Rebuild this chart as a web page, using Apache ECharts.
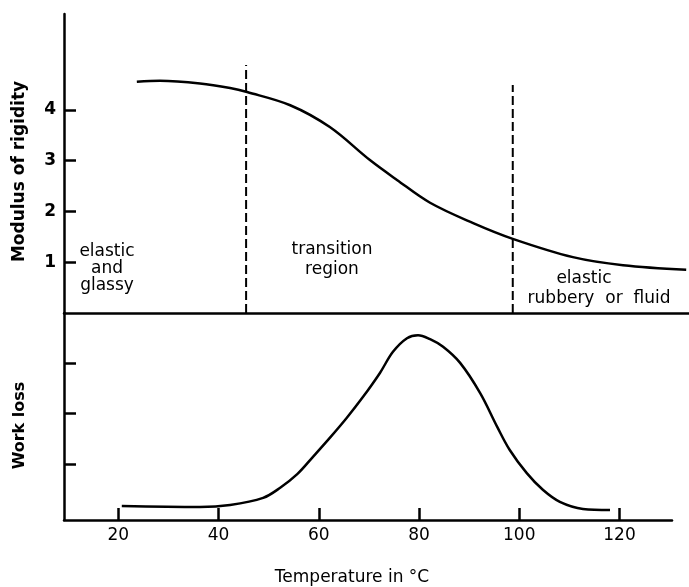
<!DOCTYPE html>
<html>
<head>
<meta charset="utf-8">
<style>
  html, body { margin: 0; padding: 0; background: #fff; }
  #chart { width: 689px; height: 587px; }
</style>
<script src="https://cdn.jsdelivr.net/npm/echarts@6/dist/echarts.min.js"></script>
</head>
<body>
<div id="chart"></div>
<script>
// Modulus of rigidity curve (upper panel)
const tempTop = [23.7, 28.3, 36.3, 42.3, 45.7, 54.3, 62.2, 70.2, 75.6, 82.2, 90.8, 98.7, 110.7, 120.7, 133.3]
const modulus = [4.55, 4.57, 4.52, 4.43, 4.35, 4.09, 3.66, 3.01, 2.62, 2.17, 1.77, 1.46, 1.10, 0.94, 0.85]

// Work loss curve (lower panel)
const tempBottom = [20.7, 36.3, 42.3, 48.9, 52.3, 55.7, 58.8, 62.2, 65.6, 68.8, 72.2, 74.8, 77.6, 79.8, 82.2, 84.8, 88.2, 92.2, 95.6, 98.1, 101.5, 104.7, 108.1, 112.7, 118.1]
const workLoss = [0.17, 0.15, 0.19, 0.33, 0.53, 0.80, 1.14, 1.52, 1.92, 2.33, 2.81, 3.23, 3.50, 3.56, 3.48, 3.33, 3.01, 2.41, 1.74, 1.28, 0.82, 0.49, 0.25, 0.11, 0.09]

// region boundaries (dashed lines)
const boundaryTemps = [45.5, 98.7]
const boundaryTops = [4.88, 4.49]

// ticks
const xTicks = [20, 40, 60, 80, 100, 120]
const modulusTicks = [1, 2, 3, 4]
const workTicks = [1, 2, 3]

const FONT = 'DejaVu Sans'
const axisLine = { show: true, onZero: false, lineStyle: { color: '#000', width: 2.5 } }
const tickStyle = { show: true, inside: true, length: 12, lineStyle: { color: '#000', width: 2.5 } }

const chart = echarts.init(document.getElementById('chart'))

const dashedSeries = boundaryTemps.map((t, i) => ({
  type: 'line',
  xAxisIndex: 0,
  yAxisIndex: 0,
  showSymbol: false,
  silent: true,
  lineStyle: { color: '#000', width: 2, type: [9, 4] },
  data: [[t, 0], [t, boundaryTops[i]]]
}))

chart.setOption({
  animation: false,
  backgroundColor: '#fff',
  grid: [
    { left: 64, top: 14, width: 625, height: 299 },
    { left: 64, top: 313, width: 608, height: 207 }
  ],
  xAxis: [
    {
      gridIndex: 0, type: 'value', min: 9.17, max: 133.86,
      axisLine: axisLine, axisTick: { show: false }, axisLabel: { show: false }, splitLine: { show: false }
    },
    {
      gridIndex: 1, type: 'value', min: 9.17, max: 130.47,
      axisLine: axisLine,
      axisTick: Object.assign({ customValues: xTicks }, tickStyle),
      axisLabel: { customValues: xTicks, color: '#000', fontFamily: FONT, fontSize: 17, margin: 7 },
      splitLine: { show: false },
      name: 'Temperature in °C',
      nameLocation: 'middle',
      nameGap: 49,
      nameTextStyle: { color: '#000', fontFamily: FONT, fontSize: 17, padding: [0, 32, 0, 0] }
    }
  ],
  yAxis: [
    {
      gridIndex: 0, type: 'value', min: 0, max: 5.886,
      axisLine: axisLine,
      axisTick: Object.assign({ customValues: modulusTicks }, tickStyle),
      axisLabel: { customValues: modulusTicks, color: '#000', fontFamily: FONT, fontWeight: 'bold', fontSize: 17, margin: 8 },
      splitLine: { show: false },
      name: 'Modulus of rigidity',
      nameLocation: 'middle',
      nameGap: 36,
      nameTextStyle: { color: '#000', fontFamily: FONT, fontWeight: 'bold', fontSize: 17, padding: [0, 16, 0, 0] }
    },
    {
      gridIndex: 1, type: 'value', min: -0.11, max: 4.0,
      axisLine: axisLine,
      axisTick: Object.assign({ customValues: workTicks }, tickStyle),
      axisLabel: { show: false },
      splitLine: { show: false },
      name: 'Work loss',
      nameLocation: 'middle',
      nameGap: 36,
      nameTextStyle: { color: '#000', fontFamily: FONT, fontWeight: 'bold', fontSize: 16, padding: [0, 18, 0, 0] }
    }
  ],
  graphic: [
    { type: 'text', x: 107, y: 269, style: { text: 'elastic\nand\nglassy', fontFamily: FONT, fontSize: 17, lineHeight: 17, fill: '#000', align: 'center', verticalAlign: 'middle' } },
    { type: 'text', x: 332, y: 260, style: { text: 'transition\nregion', fontFamily: FONT, fontSize: 17, lineHeight: 20, fill: '#000', align: 'center', verticalAlign: 'middle' } },
    { type: 'text', x: 584, y: 279, style: { text: 'elastic', fontFamily: FONT, fontSize: 17, fill: '#000', align: 'center', verticalAlign: 'middle' } },
    { type: 'text', x: 599, y: 299, style: { text: 'rubbery  or  fluid', fontFamily: FONT, fontSize: 17, fill: '#000', align: 'center', verticalAlign: 'middle' } }
  ],
  series: [
    {
      type: 'line',
      xAxisIndex: 0,
      yAxisIndex: 0,
      smooth: 0.35,
      showSymbol: false,
      lineStyle: { color: '#000', width: 2.5 },
      data: tempTop.map((t, i) => [t, modulus[i]])
    },
    ...dashedSeries,
    {
      type: 'line',
      xAxisIndex: 1,
      yAxisIndex: 1,
      smooth: 0.35,
      showSymbol: false,
      lineStyle: { color: '#000', width: 2.5 },
      data: tempBottom.map((t, i) => [t, workLoss[i]])
    }
  ]
})

window.addEventListener('resize', () => chart.resize())
</script>
</body>
</html>
